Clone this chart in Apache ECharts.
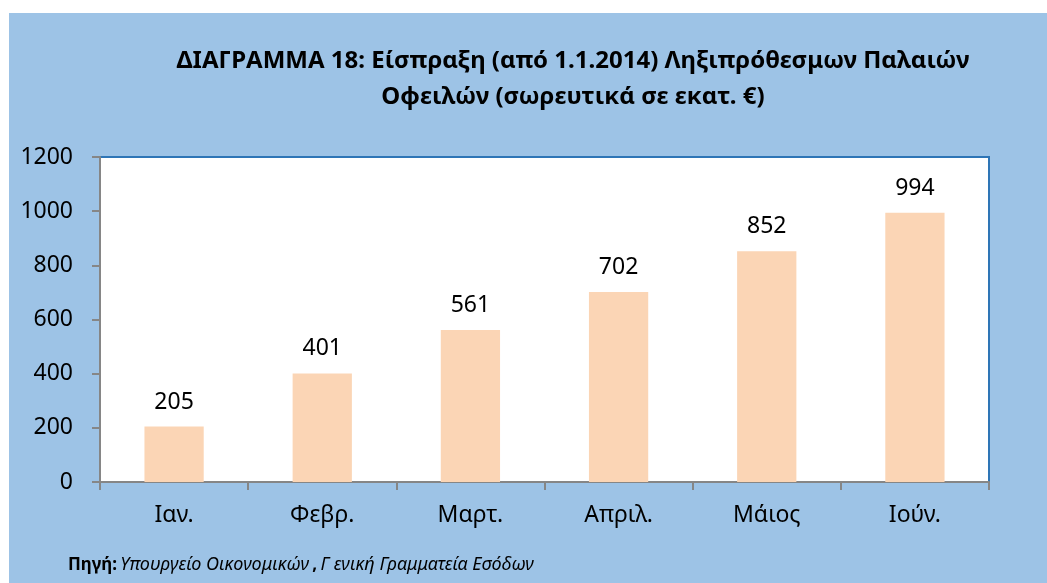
<!DOCTYPE html>
<html><head><meta charset="utf-8">
<script src="https://cdn.jsdelivr.net/npm/echarts@6/dist/echarts.min.js"></script>
<style>html,body{margin:0;padding:0;background:#fff}#c{width:1047px;height:583px}</style>
</head><body><div id="c"></div>
<script>
const categories = ['Ιαν.', 'Φεβρ.', 'Μαρτ.', 'Απριλ.', 'Μάιος', 'Ιούν.'];
const values = [205, 401, 561, 702, 852, 994];
const titleLines = ['ΔΙΑΓΡΑΜΜΑ 18: Είσπραξη (από 1.1.2014) Ληξιπρόθεσμων Παλαιών', 'Οφειλών (σωρευτικά σε εκατ. €)'];
const yTicks = { min: 0, max: 1200, interval: 200 };

const FONT = '"Noto Sans", sans-serif';
const chart = echarts.init(document.getElementById('c'));
chart.setOption({
  backgroundColor: '#fff',
  animation: false,
  graphic: [
    { type: 'rect', z: -10, shape: { x: 9, y: 13, width: 1047, height: 583 }, style: { fill: '#9DC3E6' } },
    { type: 'text', x: 573, y: 61, style: { text: titleLines[0], textAlign: 'center', textVerticalAlign: 'middle', font: 'bold 24px ' + FONT, fill: '#000' } },
    { type: 'text', x: 573, y: 97, style: { text: titleLines[1], textAlign: 'center', textVerticalAlign: 'middle', font: 'bold 24px ' + FONT, fill: '#000' } },
    { type: 'text', x: 68, y: 565, style: { rich: { b: { font: 'bold 17px ' + FONT, fill: '#000' }, i: { font: 'italic 18px ' + FONT, fill: '#000' } }, text: '{b|Πηγή:} {i|Υπουργείο Οικονομικών} {b|,} {i|Γ ενική Γραμματεία Εσόδων}', textVerticalAlign: 'middle' } }
  ],
  grid: { left: 100, top: 157, right: 58, bottom: 101, show: true, backgroundColor: '#fff', borderColor: '#2E75B6', borderWidth: 2 },
  xAxis: {
    type: 'category', data: categories,
    axisLine: { lineStyle: { color: '#868686', width: 2 } },
    axisTick: { show: true, length: 8, inside: false, lineStyle: { color: '#868686', width: 2 } },
    axisLabel: { color: '#000', fontSize: 23, fontFamily: FONT, margin: 22 }
  },
  yAxis: {
    type: 'value', min: yTicks.min, max: yTicks.max, interval: yTicks.interval,
    splitLine: { show: false },
    axisLine: { show: true, lineStyle: { color: '#868686', width: 2 } },
    axisTick: { show: true, length: 8, lineStyle: { color: '#868686', width: 2 } },
    axisLabel: { color: '#000', fontSize: 23, fontFamily: FONT, margin: 27, formatter: v => String(v) }
  },
  series: [{
    type: 'bar', data: values, barWidth: '40%',
    itemStyle: { color: '#FBD5B5' },
    label: { show: true, position: 'top', distance: 13, color: '#000', fontSize: 23, fontFamily: FONT }
  }]
});
</script></body></html>
